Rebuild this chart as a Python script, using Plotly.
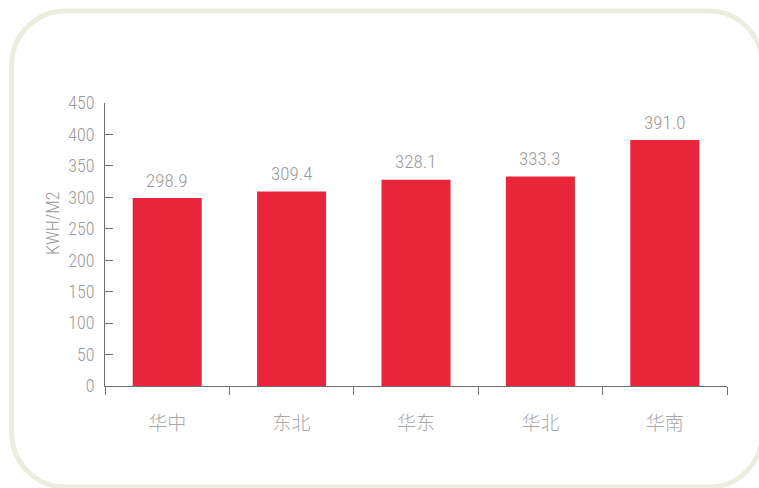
import plotly.graph_objects as go

# ---- data ----
categories = ["华中", "东北", "华东", "华北", "华南"]
values = [298.9, 309.4, 328.1, 333.3, 391.0]
value_labels = ["298.9", "309.4", "328.1", "333.3", "391.0"]
y_tick_vals = [0, 50, 100, 150, 200, 250, 300, 350, 400, 450]
y_title = "KWH/M2"

# ---- layout geometry (screen pixels) ----
W, H = 759, 488
ML, MT = 105, 103
PR, PB = 727, 386
MR, MB = W - PR, H - PB
PW, PH = PR - ML, PB - MT

def px(x):
    return (x - ML) / PW

def py(y):
    return (PB - y) / PH

NUM = "Roboto Condensed, Liberation Sans Narrow, Roboto, sans-serif"
CJK = "Noto Sans CJK SC, sans-serif"
GRAY = "#9a9a9a"
AXIS = "#6f6f6f"
RED = "#e8253a"

fig = go.Figure()
fig.add_trace(go.Bar(
    x=categories, y=values,
    marker=dict(color=RED, line=dict(width=0)),
    hoverinfo="skip",
))

for c, v, t in zip(categories, values, value_labels):
    fig.add_annotation(x=c, y=v, text=t, showarrow=False, yanchor="middle",
                       yshift=18, font=dict(family=NUM, size=19, color=GRAY, weight=300))

fig.add_annotation(xref="paper", yref="paper", x=px(52), y=py(224), text=y_title,
                   textangle=-90, showarrow=False, xanchor="center", yanchor="middle",
                   font=dict(family=NUM, size=18, color=GRAY, weight=300))

# rounded frame: only the visible strokes (left side + top/bottom arcs)
x0, x1, y0, y1, r = 11.7, 762.5, 11, 487, 54
k = 0.5523 * r
def P(x, y):
    return f"{px(x):.5f},{py(y):.5f}"
path_main = (
    f"M {P(x1, y0 + r)} "
    f"C {P(x1, y0 + r - k)} {P(x1 - r + k, y0)} {P(x1 - r, y0)} "
    f"L {P(x0 + r, y0)} "
    f"C {P(x0 + r - k, y0)} {P(x0, y0 + r - k)} {P(x0, y0 + r)} "
    f"L {P(x0, y1 - r)} "
    f"C {P(x0, y1 - r + k)} {P(x0 + r - k, y1)} {P(x0 + r, y1)} "
    f"L {P(x1 - r, y1)} "
    f"C {P(x1 - r + k, y1)} {P(x1, y1 - r + k)} {P(x1, y1 - r)}"
)
fig.add_shape(type="path", xref="paper", yref="paper", path=path_main,
              line=dict(color="#ecede0", width=5), fillcolor="rgba(0,0,0,0)", layer="below")

fig.update_layout(
    width=W, height=H,
    margin=dict(l=ML, r=MR, t=MT, b=MB, autoexpand=False),
    paper_bgcolor="white", plot_bgcolor="white",
    showlegend=False, bargap=0.445,
    xaxis=dict(
        type="category", tickson="boundaries", ticks="outside", ticklen=8,
        tickcolor=AXIS, tickwidth=1, showline=True, linecolor=AXIS, linewidth=1,
        showgrid=False, zeroline=False, ticklabelstandoff=20,
        tickfont=dict(family=CJK, size=19, color="#a8a8a8", weight=300),
    ),
    yaxis=dict(
        range=[0, 450], tickvals=y_tick_vals, ticks="inside", ticklen=8,
        tickcolor=AXIS, tickwidth=1, showline=True, linecolor=AXIS, linewidth=1,
        showgrid=False, zeroline=False, ticklabelstandoff=6,
        tickfont=dict(family=NUM, size=18, color=GRAY, weight=300),
    ),
)

fig.write_html(
    "out.html",
    config={"displayModeBar": False},
    post_script="document.body.style.margin='0';document.body.style.overflow='hidden';",
)
